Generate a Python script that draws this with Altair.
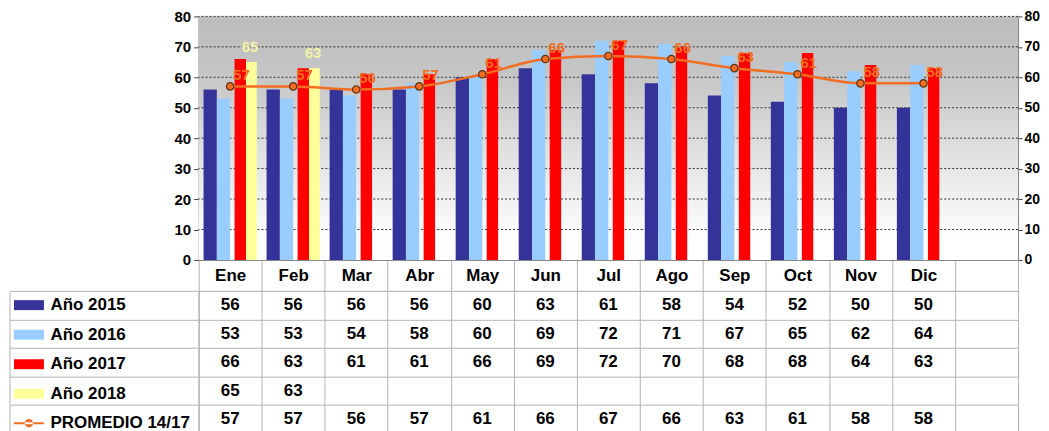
import altair as alt
import pandas as pd

# ---------------- data ----------------
months = ["Ene", "Feb", "Mar", "Abr", "May", "Jun", "Jul", "Ago", "Sep", "Oct", "Nov", "Dic"]
x_domain = months + [" "]
years = ["Año 2015", "Año 2016", "Año 2017", "Año 2018"]
avg_name = "PROMEDIO 14/17"
v2015 = [56, 56, 56, 56, 60, 63, 61, 58, 54, 52, 50, 50]
v2016 = [53, 53, 54, 58, 60, 69, 72, 71, 67, 65, 62, 64]
v2017 = [66, 63, 61, 61, 66, 69, 72, 70, 68, 68, 64, 63]
v2018 = [65, 63]
vavg = [57, 57, 56, 57, 61, 66, 67, 66, 63, 61, 58, 58]
y_ticks = [0, 10, 20, 30, 40, 50, 60, 70, 80]

year_colors = ["#333399", "#99ccff", "#ff0000", "#ffff99"]
avg_color = "#f26d21"
row_names = years + [avg_name]

rows_bar = []
for name, vals in zip(years, [v2015, v2016, v2017, v2018]):
    for m, v in zip(months, vals):
        rows_bar.append({"month": m, "series": name, "value": v})
bars_df = pd.DataFrame(rows_bar)
avg_df = pd.DataFrame({"month": months, "value": vavg})
y2018_df = bars_df[bars_df["series"] == "Año 2018"]
red_df = bars_df[bars_df["series"] == "Año 2017"]
other_df = bars_df[bars_df["series"] != "Año 2017"]

table_rows = []
for name, vals in zip(row_names, [v2015, v2016, v2017, v2018, vavg]):
    for m, v in zip(months, vals):
        table_rows.append({"month": m, "row": name, "value": str(v)})
table_df = pd.DataFrame(table_rows)

FONT = "Liberation Sans"
W = 821
H_TOP = 244
HEADER = 31
H_TAB = 143
GRID_GREY = "#b3b3b3"

# ---------------- top chart ----------------
x_enc = alt.X(
    "month:N",
    sort=None,
    scale=alt.Scale(domain=x_domain, paddingInner=0, paddingOuter=0),
    axis=alt.Axis(
        title=None, labelAngle=0, labelFont=FONT, labelFontSize=17,
        labelFontWeight="bold", labelColor="#000000", labelBaseline="middle",
        labelPadding=-15, tickBand="extent", tickSize=HEADER, tickColor=GRID_GREY,
        domainColor="#7f7f7f", grid=False,
    ),
)
yscale = alt.Scale(domain=[0, 80], nice=False)
xoff = alt.XOffset("series:N", scale=alt.Scale(domain=years, paddingInner=0, paddingOuter=0.37))
color_enc = alt.Color("series:N", scale=alt.Scale(domain=years, range=year_colors), legend=None)

axis_common = dict(
    title=None, values=y_ticks, labelFont=FONT, labelFontWeight="bold",
    labelColor="#000000", tickColor="#404040", domainColor="#7f7f7f", grid=False,
)
left_axis = alt.Axis(orient="left", tickSize=5, labelPadding=3, labelFontSize=15, **axis_common)
right_axis = alt.Axis(orient="right", tickSize=4, labelPadding=2, labelFontSize=14, **axis_common)

grad = alt.LinearGradient(
    gradient="linear",
    stops=[
        alt.GradientStop(color="#bcbcbc", offset=0),
        alt.GradientStop(color="#c6c6c6", offset=0.25),
        alt.GradientStop(color="#e0e0e0", offset=0.55),
        alt.GradientStop(color="#ffffff", offset=0.92),
    ],
    x1=0, x2=0, y1=0, y2=1,
)

bg = alt.Chart(pd.DataFrame({"top": [80], "base": [0]})).mark_rect(color=grad).encode(
    y=alt.Y("top:Q", scale=yscale, axis=left_axis), y2="base:Q"
)
grid = alt.Chart(pd.DataFrame({"tick": y_ticks[1:]})).mark_rule(
    color="#2e2e2e", strokeDash=[2, 2], strokeWidth=1
).encode(y=alt.Y("tick:Q", scale=yscale, axis=right_axis))

bars = alt.Chart(other_df).mark_bar().encode(
    x=x_enc, xOffset=xoff, y=alt.Y("value:Q", scale=yscale, axis=None), color=color_enc,
)
bars_red = alt.Chart(red_df).mark_bar(width=alt.RelativeBandSize(0.86)).encode(
    x=x_enc, xOffset=xoff, y=alt.Y("value:Q", scale=yscale, axis=None), color=color_enc,
)
line = alt.Chart(avg_df).mark_line(color=avg_color, strokeWidth=2.5, interpolate="monotone").encode(
    x=x_enc, y=alt.Y("value:Q", scale=yscale, axis=None)
)
pts = alt.Chart(avg_df).mark_circle(size=55, color=avg_color, opacity=1, stroke="#5a3310", strokeWidth=1.2).encode(
    x=x_enc, y=alt.Y("value:Q", scale=yscale, axis=None)
)
avg_lbl = alt.Chart(avg_df).mark_text(
    align="left", dx=3, dy=-11, font=FONT, fontSize=15, fontWeight="bold", color=avg_color
).encode(x=x_enc, y=alt.Y("value:Q", scale=yscale, axis=None), text="value:Q")
lbl2018 = alt.Chart(y2018_df).mark_text(
    dy=-15, font=FONT, fontSize=15, fontWeight="bold", color="#f2f2a8"
).encode(x=x_enc, xOffset=xoff, y=alt.Y("value:Q", scale=yscale, axis=None), text="value:Q")

top = alt.layer(bg, grid, bars, bars_red, line, pts, avg_lbl, lbl2018).resolve_axis(y="independent").properties(
    width=W, height=H_TOP
)

# ---------------- data table ----------------
tx = alt.X(
    "month:N", sort=None,
    scale=alt.Scale(domain=x_domain, paddingInner=0, paddingOuter=0),
    axis=alt.Axis(title=None, orient="top", labels=False, ticks=False, domain=False,
                  grid=True, tickBand="extent", gridColor=GRID_GREY),
)
ty_scale = alt.Scale(domain=row_names, paddingInner=0, paddingOuter=0)
ty = alt.Y(
    "row:N", sort=None, scale=ty_scale,
    axis=alt.Axis(title=None, labels=False, ticks=True, tickSize=189.5, tickBand="extent",
                  tickColor=GRID_GREY, grid=True, gridColor=GRID_GREY, domain=True,
                  domainColor=GRID_GREY),
)
cells = alt.Chart(table_df).mark_text(
    font=FONT, fontSize=17, fontWeight="bold", color="#000000"
).encode(x=tx, y=ty, text="value:N")

leg = alt.Legend(
    title=None, orient="none", legendX=-178.5, legendY=5.8, direction="vertical",
    labelFont=FONT, labelFontSize=17, labelFontWeight="bold", labelColor="#000000",
    symbolSize=144, symbolStrokeWidth=0, labelOffset=13, rowPadding=11.6, padding=0,
    labelLimit=300, symbolOpacity=1,
)
rect_path = "M-2.5,-0.83H2.5V0.83H-2.5Z"
avg_path = ("M-2.5,-0.16H2.5V0.16H-2.5Z "
            "M-0.7,0A0.7,0.7 0 1,0 0.7,0A0.7,0.7 0 1,0 -0.7,0Z")

legend_layer = alt.Chart(pd.DataFrame({"row": row_names})).mark_point(filled=True, opacity=1).encode(
    y=alt.Y("row:N", sort=None, scale=ty_scale,
            axis=alt.Axis(title=None, orient="left", offset=189.5, labels=False, ticks=False,
                          grid=False, domain=True, domainColor=GRID_GREY)),
    color=alt.Color("row:N", scale=alt.Scale(domain=row_names, range=year_colors + [avg_color]), legend=leg),
    shape=alt.Shape("row:N", scale=alt.Scale(domain=row_names, range=[rect_path] * 4 + [avg_path]), legend=leg),
).transform_filter("false")

table = alt.layer(cells, legend_layer).resolve_axis(y="independent").properties(width=W, height=H_TAB)

chart = (
    alt.vconcat(top, table, spacing=HEADER, bounds="flush")
    .resolve_scale(x="independent", y="independent", color="independent", shape="independent")
    .properties(padding={"left": 0, "right": 0, "top": 0, "bottom": 0})
    .configure_view(stroke=None)
    .configure(font=FONT)
)

chart.save("out.html", embed_options={"renderer": "svg", "actions": False})
